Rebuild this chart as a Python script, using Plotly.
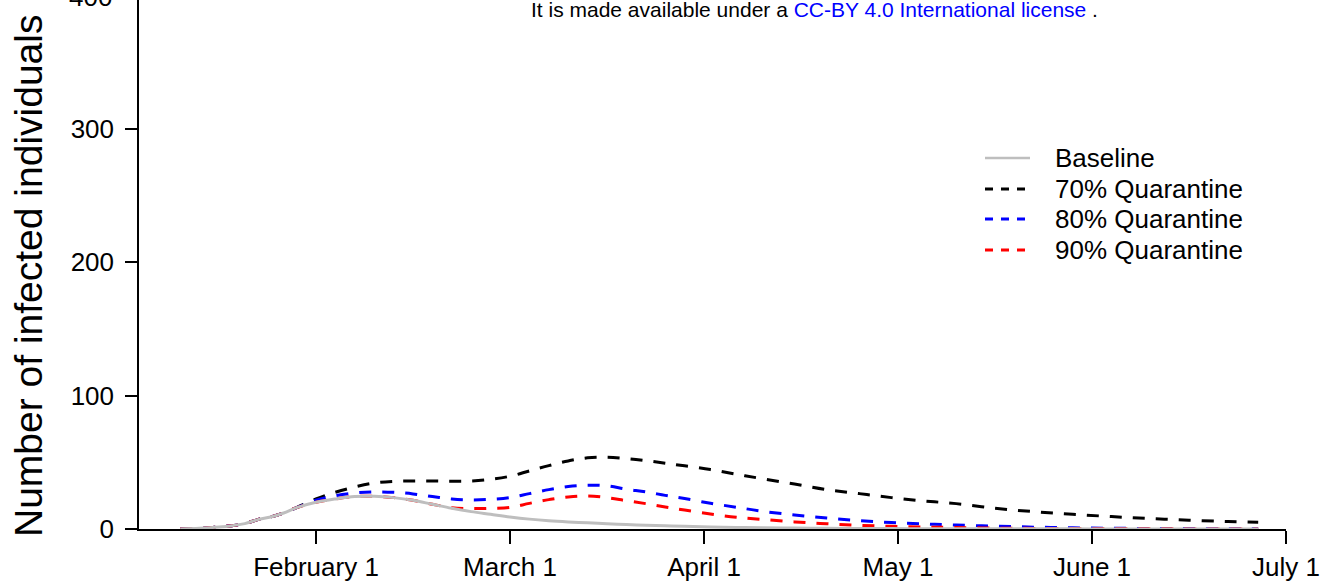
import plotly.graph_objects as go

# Day index (Jan 1 = 0); tick positions every 30 days labelled by month
days = [10, 13, 16, 18, 20, 22, 24, 26, 28, 31, 34, 37, 40, 43, 46, 49, 52, 55, 58,
        61, 64, 67, 70, 73, 76, 79, 82, 85, 88, 92, 96, 100, 105, 110, 115, 120, 125,
        130, 136, 142, 148, 154, 160, 166, 172, 176.7]

baseline = [0, 0.5, 1.5, 2.5, 4, 7, 9, 12, 16, 20, 22.5, 24.3, 24.5, 23.5, 21.5, 18.5,
            15.5, 13, 11, 9, 7.4, 6.2, 5.3, 4.6, 3.9, 3.3, 2.8, 2.4, 2.0, 1.5, 1.15, 0.9,
            0.7, 0.5, 0.4, 0.3, 0.25, 0.2, 0.15, 0.12, 0.1, 0.08, 0.06, 0.05, 0.04, 0.03]

q70 = [0, 0.5, 1.5, 2.5, 4, 7, 9, 12, 16, 22.5, 27.5, 31.5, 34.5, 35.7, 36, 36, 35.8,
       36, 37.2, 39.5, 43.5, 47.5, 51, 53.3, 53.8, 52.8, 51.2, 49.3, 47.3, 44.5, 41,
       37.7, 33.7, 29.5, 26.5, 23.5, 21, 19, 15.5, 13, 11, 9.3, 7.8, 6.6, 5.6, 5]

q80 = [0, 0.5, 1.5, 2.5, 4, 7, 9, 12, 16, 21.5, 25, 27, 27.8, 27.5, 26.3, 24.3, 22.5,
       21.8, 22.2, 23.5, 26.5, 29.5, 31.8, 32.8, 32.3, 29.8, 27.8, 25.2, 22.8, 19.3,
       16.3, 13.3, 10.5, 8.2, 6.2, 4.8, 3.8, 3.0, 2.1, 1.4, 0.9, 0.6, 0.4, 0.3, 0.2, 0.15]

q90 = [0, 0.5, 1.5, 2.5, 4, 7, 9, 12, 16, 20, 22.5, 24.3, 24.5, 23.5, 21.5, 18.5, 16,
       15.3, 15.5, 16.2, 19.2, 22, 24, 24.8, 23.5, 21.2, 19, 16.5, 14.2, 11.2, 8.8,
       7.2, 5.3, 3.9, 2.8, 2.0, 1.5, 1.1, 0.7, 0.45, 0.3, 0.2, 0.13, 0.09, 0.06, 0.05]

tick_days = [31, 61, 91, 121, 151, 181]
tick_labels = ["February 1", "March 1", "April 1", "May 1", "June 1", "July 1"]
y_ticks = [0, 100, 200, 300]

series_names = ["Baseline", "70% Quarantine", "80% Quarantine", "90% Quarantine"]
series_colors = ["#BEBEBE", "black", "#0000FF", "#FF0000"]

FONT = "Liberation Sans, Arial, sans-serif"
DASH = "12px,11px"

W, H = 1324, 586
L, R, T, B = 139, 38, 0, 57
PW, PH = W - L - R, H - T - B


def px(xp):
    return (xp - L) / PW


def py(yp):
    return (H - B - yp) / PH


fig = go.Figure()
order = [1, 2, 3, 0]  # draw dashed first, baseline on top
data = [baseline, q70, q80, q90]
for i in order:
    fig.add_trace(go.Scatter(
        x=days, y=data[i], mode="lines", name=series_names[i], showlegend=False,
        line=dict(color=series_colors[i], width=3,
                  dash="solid" if i == 0 else DASH, shape="spline")))

fig.update_layout(
    width=W, height=H,
    margin=dict(l=L, r=R, t=T, b=B),
    paper_bgcolor="white", plot_bgcolor="white",
    font=dict(family=FONT, size=26, color="black"),
    showlegend=False,
    xaxis=dict(range=[3.63, 181], tickmode="array", tickvals=tick_days,
               ticktext=tick_labels, showline=True, linecolor="black", linewidth=1.5,
               ticks="outside", ticklen=13, tickwidth=1.5, tickcolor="black",
               showgrid=False, zeroline=False, ticklabelstandoff=1),
    yaxis=dict(range=[0, 396.25], tickmode="array", tickvals=y_ticks,
               showline=True, linecolor="black", linewidth=1.5,
               ticks="outside", ticklen=12, tickwidth=1.5, tickcolor="black",
               showgrid=False, zeroline=False, ticklabelstandoff=6),
)

# manual legend (R-style, no box)
leg_y = [158, 189, 219, 250]
for name, col, yy, k in zip(series_names, series_colors, leg_y, range(4)):
    fig.add_shape(type="line", xref="paper", yref="paper",
                  x0=px(985), x1=px(1030), y0=py(yy), y1=py(yy),
                  line=dict(color=col, width=3 if k else 2.5,
                            dash="solid" if k == 0 else "8px,8px"))
    fig.add_annotation(x=px(1053), y=py(yy), xref="paper", yref="paper",
                       text=name, showarrow=False, xanchor="left", yanchor="middle",
                       font=dict(size=26))

# partially visible top tick label
fig.add_annotation(x=px(114), y=py(-3), xref="paper", yref="paper",
                   text="400", showarrow=False, xanchor="right", yanchor="middle",
                   font=dict(size=26))
# y-axis title
fig.add_annotation(x=px(28), y=py(276), xref="paper", yref="paper",
                   text="Number of infected individuals", showarrow=False,
                   textangle=-90, xanchor="center", yanchor="middle",
                   font=dict(size=39))
# header stamp
fig.add_annotation(x=px(814), y=py(10), xref="paper", yref="paper",
                   text='It is made available under a <span style="color:#0000FF">CC-BY 4.0 International license</span> .',
                   showarrow=False, xanchor="center", yanchor="middle",
                   font=dict(size=21))

fig.write_html("out.html", config={"displayModeBar": False},
               post_script="document.body.style.margin='0px';")
